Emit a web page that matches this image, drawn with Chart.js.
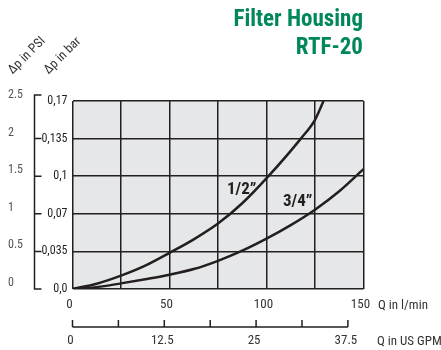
<!DOCTYPE html>
<html>
<head>
<meta charset="utf-8">
<script src="https://cdn.jsdelivr.net/npm/chart.js@4.4.1/dist/chart.umd.min.js"></script>
<style>
  html, body { margin: 0; padding: 0; background: #fff; }
  #wrap { position: relative; width: 441px; height: 350px; }
  .narrow { font-family: "Liberation Sans Narrow", "Roboto Condensed", "DejaVu Sans Condensed", sans-serif; }
  #title {
    position: absolute; right: 78px; top: 5px;
    font-weight: bold; font-size: 23px; line-height: 28px;
    color: #00875a; text-align: right;
  }
  .rot {
    position: absolute; display: block; font-size: 13px; line-height: 13px; color: #333;
    white-space: nowrap; transform-origin: 0 100%; transform: rotate(-45deg);
  }
</style>
</head>
<body>
<div id="wrap">
  <canvas id="chart" width="441" height="350"></canvas>
  <div id="title" class="narrow">Filter Housing<br>RTF-20</div>
  <span class="rot narrow" style="left:14px; top:63px;">Δp in PSI</span>
  <span class="rot narrow" style="left:50px; top:63px;">Δp in bar</span>
</div>
<script>
const FONT = '"Liberation Sans Narrow", "Roboto Condensed", "DejaVu Sans Condensed", sans-serif';
const INK = "#231f20";

// Daten
const flowHalf = [0, 12.5, 25, 37.5, 50, 62.5, 75, 87.5, 101, 117.7, 125, 129.4]; // l/min
const dpHalf   = [0, 0.07, 0.177, 0.31, 0.48, 0.66, 0.87, 1.14, 1.5, 2.0, 2.25, 2.5]; // PSI
const flowThreeQ = [0, 12.5, 25, 37.5, 50, 62.5, 75, 87.5, 100, 112.5, 125, 137.5, 150];
const dpThreeQ   = [0, 0.025, 0.075, 0.13, 0.19, 0.265, 0.375, 0.51, 0.67, 0.85, 1.055, 1.3, 1.595];

const lpmLabels = [0, 50, 100, 150];
const psiLabels = ["0", "0.5", "1", "1.5", "2", "2.5"];
const barLabels = ["0,0", "0,035", "0,07", "0,1", "0,135", "0,17"];
const gpmTicks  = [0, 6.25, 12.5, 18.75, 25, 31.25, 37.5];
const gpmLabels = [0, 12.5, 25, 37.5];
const LPM_PER_GPM = 3.785411784;

function pts(xs, ys){ return xs.map((x,i)=>({x:x, y:ys[i]})); }

// Hintergrund, Klammern und Beschriftungen
const extras = {
  id: "extras",
  beforeDraw(chart){
    const {ctx, chartArea:a} = chart;
    ctx.save();
    ctx.fillStyle = "#e6e7e8";
    ctx.fillRect(a.left, a.top, a.right-a.left, a.bottom-a.top);
    ctx.restore();
  },
  afterDraw(chart){
    const ctx = chart.ctx;
    const y = chart.scales.y, x = chart.scales.x, g = chart.scales.gpm;
    ctx.save();
    ctx.strokeStyle = INK;
    ctx.lineWidth = 1.5;

    // linke Klammer
    const bx = 34.5;
    const top = y.getPixelForValue(2.5) - 6, bot = y.getPixelForValue(0);
    ctx.beginPath();
    ctx.moveTo(bx+7, top); ctx.lineTo(bx, top); ctx.lineTo(bx, bot); ctx.lineTo(bx+7, bot);
    [0.5, 1, 1.5, 2].forEach(v=>{
      const py = y.getPixelForValue(v);
      ctx.moveTo(bx, py); ctx.lineTo(bx+7, py);
    });
    ctx.stroke();

    // GPM-Achse
    const ly = 327;
    ctx.beginPath();
    ctx.moveTo(g.getPixelForValue(0), ly); ctx.lineTo(g.getPixelForValue(37.5), ly);
    gpmTicks.forEach(v=>{
      const px = g.getPixelForValue(v);
      ctx.moveTo(px, ly); ctx.lineTo(px, ly-7);
    });
    ctx.stroke();

    // Kurvenbeschriftung
    ctx.fillStyle = INK;
    ctx.font = "bold 17px " + FONT;
    ctx.textAlign = "center"; ctx.textBaseline = "middle";
    ctx.fillText("1/2\u201d", x.getPixelForValue(87.2), y.getPixelForValue(1.318));
    ctx.fillText("3/4\u201d", x.getPixelForValue(116.1), y.getPixelForValue(1.166));

    // Achsentitel unten
    ctx.font = "13px " + FONT;
    ctx.fillStyle = "#333";
    ctx.textAlign = "left"; ctx.textBaseline = "alphabetic";
    ctx.fillText("Q in l/min", 378, 309);
    ctx.fillText("Q in US GPM", 377, 345);
    ctx.restore();
  }
};

const tickFont = {family: FONT, size: 13};

new Chart(document.getElementById("chart"), {
  type: "line",
  data: {
    datasets: [
      { label: "1/2\"", data: pts(flowHalf, dpHalf), borderColor: INK, borderWidth: 2.5,
        pointRadius: 0, cubicInterpolationMode: "monotone", fill: false },
      { label: "3/4\"", data: pts(flowThreeQ, dpThreeQ), borderColor: INK, borderWidth: 2.5,
        pointRadius: 0, cubicInterpolationMode: "monotone", fill: false }
    ]
  },
  options: {
    responsive: false,
    animation: false,
    devicePixelRatio: 1,
    layout: { padding: { left: 8, right: 77.5, top: 101, bottom: 0 } },
    plugins: { legend: { display: false }, tooltip: { enabled: false }, title: { display: false } },
    scales: {
      x: {
        type: "linear", position: "bottom", weight: 1,
        min: 0, max: 150,
        grid: { color: INK, lineWidth: 1.5, drawTicks: false },
        border: { display: false },
        ticks: { stepSize: 25, padding: 8, labelOffset: -3, maxRotation: 0, autoSkip: false,
                 color: "#333", font: tickFont,
                 callback: v => lpmLabels.includes(v) ? String(v) : "" },
        afterFit: s => { s.height = 22; }
      },
      gpm: {
        type: "linear", position: "bottom", weight: 2,
        min: 0, max: 150 / LPM_PER_GPM,
        grid: { display: false },
        border: { display: false },
        afterBuildTicks: s => { s.ticks = gpmTicks.map(v => ({value: v})); },
        ticks: { padding: 14, labelOffset: -2, maxRotation: 0, autoSkip: false,
                 color: "#333", font: tickFont,
                 callback: v => gpmLabels.includes(v) ? String(v) : "" },
        afterFit: s => { s.height = 39; }
      },
      y: {
        type: "linear", position: "left", weight: 1,
        min: 0, max: 2.5,
        grid: { color: INK, lineWidth: 1.5, drawTicks: false },
        border: { display: false },
        ticks: { stepSize: 0.5, padding: 5, color: INK, font: {family: FONT, size: 12},
                 callback: (v, i) => barLabels[i] },
        afterFit: s => { s.width = 37.5; }
      },
      psi: {
        type: "linear", position: "left", weight: 2,
        min: 0, max: 2.5,
        grid: { display: false },
        border: { display: false },
        ticks: { stepSize: 0.5, padding: 0, crossAlign: "far", labelOffset: -6,
                 color: "#555", font: {family: FONT, size: 12},
                 callback: (v, i) => psiLabels[i] },
        afterFit: s => { s.width = 27; }
      }
    }
  },
  plugins: [extras]
});
</script>
</body>
</html>
